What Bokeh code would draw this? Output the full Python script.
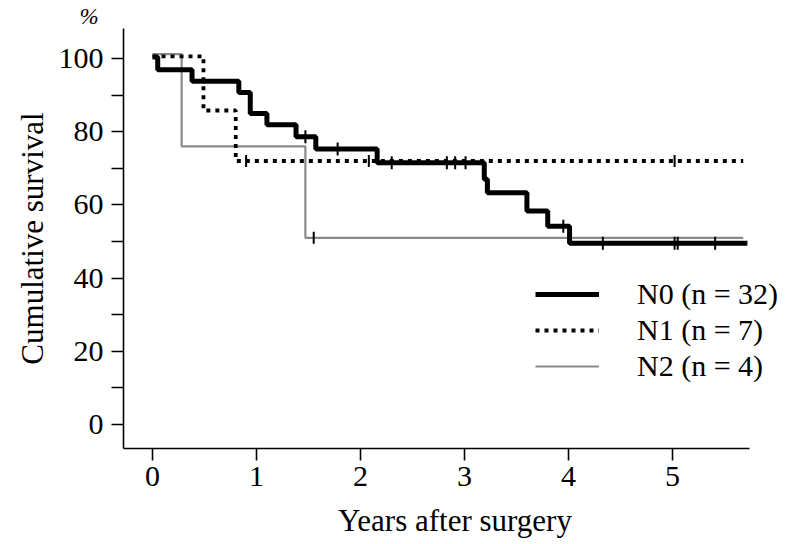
import math
from bokeh.plotting import figure
from bokeh.models import Range1d, FixedTicker, Legend, LegendItem
from bokeh.embed import file_html
from bokeh.resources import INLINE

# ---- data ----
n0_time = [0.0, 0.05, 0.38, 0.83, 0.94, 1.10, 1.38, 1.57, 2.16, 3.19, 3.22, 3.60, 3.80, 4.01, 5.72]
n0_surv = [100.4, 96.9, 93.8, 90.7, 85.0, 81.9, 78.6, 75.3, 71.5, 67.0, 63.3, 58.3, 54.2, 49.5, 49.5]
n0_cens_time = [1.47, 1.78, 2.30, 2.83, 2.91, 3.01, 3.95, 4.33, 5.02, 5.05, 5.41]
n0_cens_surv = [78.6, 75.3, 71.5, 71.5, 71.5, 71.5, 54.2, 49.5, 49.5, 49.5, 49.5]

n1_time = [0.0, 0.49, 0.80, 5.68]
n1_surv = [100.6, 85.8, 72.0, 72.0]
n1_cens_time = [0.90, 2.08, 5.02]
n1_cens_surv = [72.0, 72.0, 72.0]

n2_time = [0.0, 0.28, 1.47, 5.68]
n2_surv = [101.2, 76.0, 51.0, 51.0]
n2_cens_time = [1.55]
n2_cens_surv = [51.0]

series_labels = ["N0 (n = 32)", "N1 (n = 7)", "N2 (n = 4)"]
x_ticks = [0, 1, 2, 3, 4, 5]
y_ticks = [0, 20, 40, 60, 80, 100]
y_minor = [10, 30, 50, 70, 90]
x_title = "Years after surgery"
y_title = "Cumulative survival"
unit_label = "%"
x_axis_extent = (-0.279, 5.74)
y_axis_extent = (-6.56, 108.2)

FONT = "Liberation Serif"
FS = "30px"

p = figure(width=786, height=544, output_backend="svg", toolbar_location=None,
           x_range=Range1d(-0.279, 6.096), y_range=Range1d(-6.56, 108.2),
           min_border_left=123, min_border_right=0, min_border_top=28, min_border_bottom=96,
           title=unit_label)
p.outline_line_color = None
p.grid.visible = False
p.background_fill_color = "white"
p.border_fill_color = "white"

p.title.text_font = FONT
p.title.text_font_size = "23px"
p.title.text_font_style = "italic"
p.title.text_color = "black"
p.title.align = "left"
p.title.offset = -44
p.title.standoff = 0

# curves
r2 = p.step(n2_time, n2_surv, mode="after", line_color="#8a8a8a", line_width=2.2)
r1 = p.step(n1_time, n1_surv, mode="after", line_color="black", line_width=3.8, line_dash="4 5")
r0 = p.step(n0_time, n0_surv, mode="after", line_color="black", line_width=5)

# censor marks
for t, s, h in [(n2_cens_time, n2_cens_surv, 12), (n1_cens_time, n1_cens_surv, 12), (n0_cens_time, n0_cens_surv, 13)]:
    p.scatter(t, s, marker="dash", angle=math.pi / 2, size=h, line_color="black", line_width=2)

# axes
for ax in (p.xaxis[0], p.yaxis[0]):
    ax.axis_line_width = 1.6
    ax.axis_line_color = "black"
    ax.major_tick_line_width = 1.6
    ax.minor_tick_line_width = 1.6
    ax.major_tick_in = 0
    ax.major_tick_out = 12
    ax.minor_tick_in = 0
    ax.minor_tick_out = 12
    ax.major_label_text_font = FONT
    ax.major_label_text_font_size = FS
    ax.major_label_text_color = "black"
    ax.axis_label_text_font = FONT
    ax.axis_label_text_font_size = "31px"
    ax.axis_label_text_font_style = "normal"
    ax.axis_label_text_color = "black"

p.xaxis.bounds = x_axis_extent
p.xaxis.ticker = FixedTicker(ticks=x_ticks)
p.xaxis.minor_tick_line_color = None
p.xaxis.major_label_standoff = 6
p.xaxis.axis_label = x_title
p.xaxis.axis_label_standoff = 14

p.yaxis.bounds = y_axis_extent
p.yaxis.ticker = FixedTicker(ticks=y_ticks, minor_ticks=y_minor)
p.yaxis.major_label_standoff = 8
p.yaxis.axis_label = y_title
p.yaxis.axis_label_standoff = 6

legend = Legend(items=[LegendItem(label=series_labels[0], renderers=[r0]),
                       LegendItem(label=series_labels[1], renderers=[r1]),
                       LegendItem(label=series_labels[2], renderers=[r2])],
                location=(412, 65), padding=0, margin=0, spacing=2,
                glyph_width=64, glyph_height=30, label_height=30, label_standoff=38,
                label_text_font=FONT, label_text_font_size=FS, label_text_color="black",
                border_line_color=None, background_fill_alpha=0)
p.add_layout(legend)

open("out.html", "w").write(file_html(p, INLINE))
